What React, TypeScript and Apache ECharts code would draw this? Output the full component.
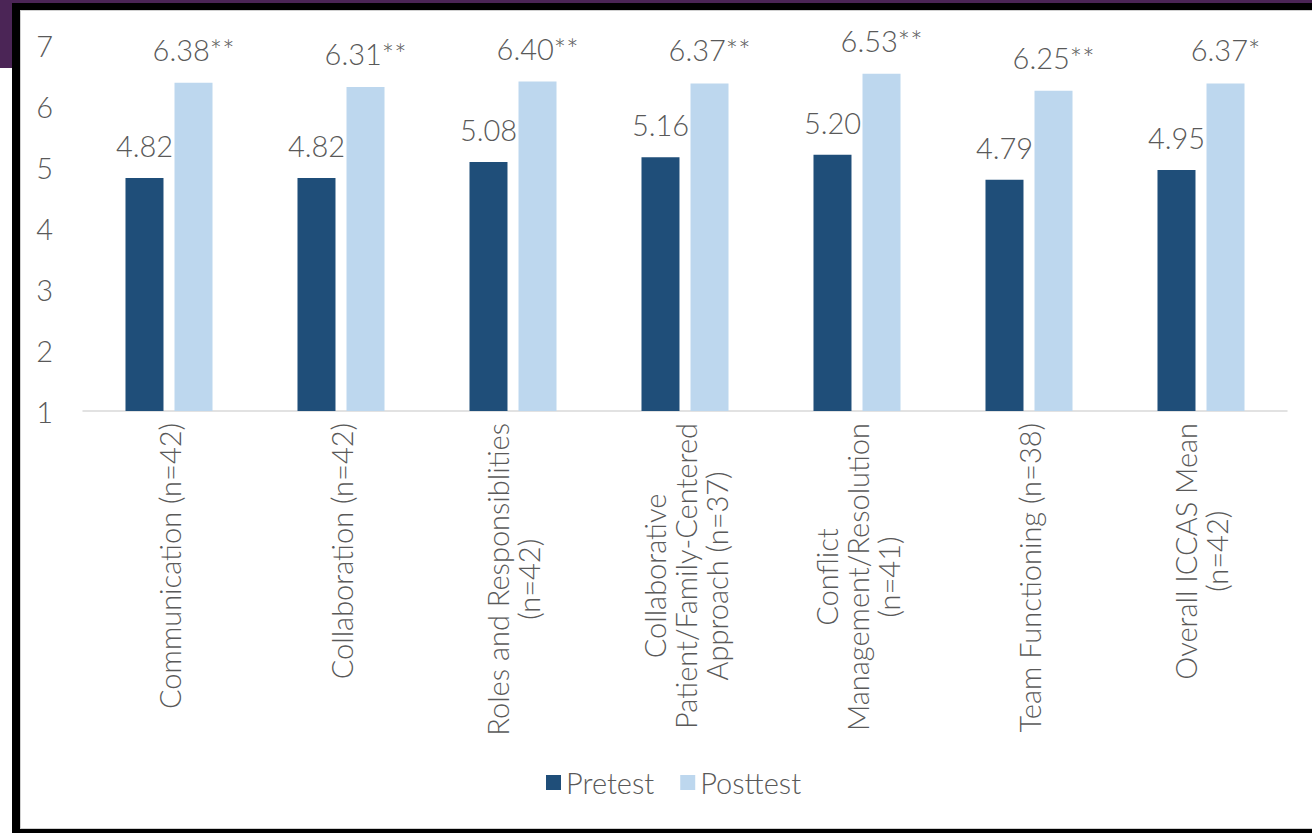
import React, { useEffect, useRef } from "react";
import * as echarts from "echarts";

const categories = [
  "Communication (n=42)",
  "Collaboration (n=42)",
  "Roles and Responsiblities\n(n=42)",
  "Collaborative\nPatient/Family-Centered\nApproach (n=37)",
  "Conflict\nManagement/Resolution\n(n=41)",
  "Team Functioning (n=38)",
  "Overall ICCAS Mean\n(n=42)",
];
const pretest = [4.82, 4.82, 5.08, 5.16, 5.2, 4.79, 4.95];
const posttest = [6.38, 6.31, 6.4, 6.37, 6.53, 6.25, 6.37];
const posttestMarks = ["**", "**", "**", "**", "**", "**", "*"];

const FONT = "Lato";
const WEIGHT = 300;
const SIZE = 29;
const GRAY = "#595959";

export default function App() {
  const ref = useRef<HTMLDivElement>(null);
  useEffect(() => {
    if (!ref.current) return;
    const chart = echarts.init(ref.current, null, { renderer: "svg" });
    const txt = { color: GRAY, fontFamily: FONT, fontWeight: WEIGHT, fontSize: SIZE };
    chart.setOption({
      animation: false,
      backgroundColor: "#ffffff",
      textStyle: { fontFamily: FONT, color: GRAY },
      graphic: [
        { type: "rect", shape: { x: 0, y: 0, width: 1312, height: 3 }, style: { fill: "#4b2556" }, silent: true },
        { type: "rect", shape: { x: 0, y: 0, width: 12, height: 68 }, style: { fill: "#4b2556" }, silent: true },
        { type: "rect", shape: { x: 12, y: 3, width: 1300, height: 7 }, style: { fill: "#000000" }, silent: true },
        { type: "rect", shape: { x: 12, y: 3, width: 8, height: 830 }, style: { fill: "#000000" }, silent: true },
        { type: "rect", shape: { x: 12, y: 829, width: 1300, height: 4 }, style: { fill: "#000000" }, silent: true },
        { type: "rect", shape: { x: 20, y: 10, width: 1292, height: 1 }, style: { fill: "#d0d0d0" }, silent: true },
        { type: "rect", shape: { x: 20, y: 10, width: 1, height: 819 }, style: { fill: "#d0d0d0" }, silent: true },
        { type: "rect", shape: { x: 20, y: 828, width: 1292, height: 1 }, style: { fill: "#d0d0d0" }, silent: true },
      ],
      grid: { left: 83, right: 25, top: 45, bottom: 833 - 411, containLabel: false },
      legend: {
        left: 541,
        top: 763,
        itemWidth: 15,
        itemHeight: 15,
        itemGap: 26,
        icon: "rect",
        textStyle: { ...txt },
        data: ["Pretest", "Posttest"],
      },
      xAxis: {
        type: "category",
        data: categories,
        axisLine: { show: true, lineStyle: { color: "#d9d9d9", width: 1.5 } },
        axisTick: { show: false },
        axisLabel: {
          rotate: 90,
          margin: 12,
          interval: 0,
          ...txt,
          lineHeight: 31,
          formatter: (v: string) =>
            v
              .split("\n")
              .map((l) => "{c|" + l + "}")
              .join("\n"),
          rich: {
            c: { align: "center", ...txt, lineHeight: 31 },
          },
        },
      },
      yAxis: {
        type: "value",
        min: 1,
        max: 7,
        interval: 1,
        axisLine: { show: false },
        axisTick: { show: false },
        splitLine: { show: false },
        axisLabel: { margin: 30, ...txt },
      },
      series: [
        {
          name: "Pretest",
          type: "bar",
          data: pretest,
          barWidth: 38,
          barGap: "29%",
          itemStyle: { color: "#1f4e79" },
          label: {
            show: true,
            position: "top",
            distance: 18,
            ...txt,
            formatter: (p: any) => pretest[p.dataIndex].toFixed(2),
          },
        },
        {
          name: "Posttest",
          type: "bar",
          data: posttest,
          barWidth: 38,
          itemStyle: { color: "#bdd7ee" },
          label: {
            show: true,
            position: "top",
            distance: 19,
            ...txt,
            formatter: (p: any) => posttest[p.dataIndex].toFixed(2) + posttestMarks[p.dataIndex],
          },
        },
      ],
    });
    return () => chart.dispose();
  }, []);
  return (
    <div
      ref={ref}
      style={{ position: "fixed", left: 0, top: 0, width: 1312, height: 833 }}
    />
  );
}
